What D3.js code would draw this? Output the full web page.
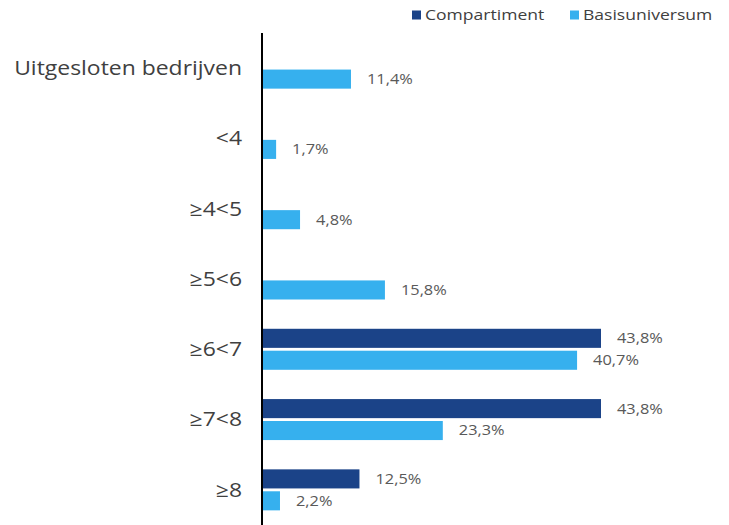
<!DOCTYPE html>
<html lang="en">
<head>
  <meta charset="utf-8">
  <title>Compartiment vs Basisuniversum</title>
  <script src="https://d3js.org/d3.v7.min.js"></script>
  <style>
    body { margin: 0; background: #fff; }
    text { font-family: "Open Sans", "DejaVu Sans", sans-serif; }
  </style>
</head>
<body>
<script>
// data
var categories = ["Uitgesloten bedrijven", "<4", "\u22654<5", "\u22655<6", "\u22656<7", "\u22657<8", "\u22658"];
var seriesNames = ["Compartiment", "Basisuniversum"];
var compartiment = [null, null, null, null, 43.8, 43.8, 12.5];
var basisuniversum = [11.4, 1.7, 4.8, 15.8, 40.7, 23.3, 2.2];
var colors = ["#1b4388", "#36b0ee"];

var w = 729, h = 525;
var wide = 1.17; // stretch text to mimic the wide original typeface

var svg = d3.select("body").append("svg")
  .attr("width", w)
  .attr("height", h);

var x = d3.scaleLinear()
  .domain([0, 50])
  .range([263, 263 + 338 / 43.8 * 50]);

var y = d3.scaleBand()
  .domain(categories)
  .range([33, 525])
  .padding(0);

var half = 20.5;
var y1 = d3.scaleBand()
  .domain(seriesNames)
  .range([y.bandwidth() / 2 - half, y.bandwidth() / 2 + half])
  .paddingInner(0.13);

// rows of {cat, series, value}
var rows = [];
categories.forEach(function(c, i) {
  rows.push({cat: c, s: "Compartiment", v: compartiment[i]});
  rows.push({cat: c, s: "Basisuniversum", v: basisuniversum[i]});
});
rows = rows.filter(function(d) { return d.v != null; });

svg.selectAll("rect.bar")
  .data(rows)
  .enter()
  .append("rect")
  .attr("class", "bar")
  .attr("x", x(0))
  .attr("y", function(d) { return y(d.cat) + y1(d.s); })
  .attr("width", function(d) { return x(d.v) - x(0); })
  .attr("height", y1.bandwidth())
  .attr("fill", function(d) { return colors[seriesNames.indexOf(d.s)]; });

// value labels
svg.selectAll("text.val")
  .data(rows)
  .enter()
  .append("text")
  .attr("class", "val")
  .attr("transform", function(d) {
    return "translate(" + (x(d.v) + 16) + "," + (y(d.cat) + y1(d.s) + y1.bandwidth() / 2) + ") scale(" + wide + ",1)";
  })
  .attr("dy", "0.35em")
  .attr("font-size", 14)
  .attr("fill", "#595959")
  .text(function(d) { return d3.format(".1f")(d.v).replace(".", ",") + "%"; });

// category labels
svg.selectAll("text.cat")
  .data(categories)
  .enter()
  .append("text")
  .attr("class", "cat")
  .attr("transform", function(d) {
    return "translate(242," + (y(d) + y.bandwidth() / 2) + ") scale(" + wide + ",1)";
  })
  .attr("dy", "0.35em")
  .attr("text-anchor", "end")
  .attr("font-size", 19.6)
  .attr("fill", "#404040")
  .text(function(d) { return d; });

// vertical axis line
svg.append("line")
  .attr("x1", x(0) - 1)
  .attr("x2", x(0) - 1)
  .attr("y1", 33)
  .attr("y2", h)
  .attr("stroke", "black")
  .attr("stroke-width", 2);

// legend
var legendX = [412, 570];
var legend = svg.selectAll("g.legend")
  .data(seriesNames)
  .enter()
  .append("g")
  .attr("class", "legend")
  .attr("transform", function(d, i) { return "translate(" + legendX[i] + ",15)"; });

legend.append("rect")
  .attr("x", 0)
  .attr("y", -4.5)
  .attr("width", 9)
  .attr("height", 9)
  .attr("fill", function(d, i) { return colors[i]; });

legend.append("text")
  .attr("transform", "translate(13,0) scale(" + wide + ",1)")
  .attr("dy", "0.35em")
  .attr("font-size", 15)
  .attr("fill", "#404040")
  .text(function(d) { return d; });
</script>
</body>
</html>
